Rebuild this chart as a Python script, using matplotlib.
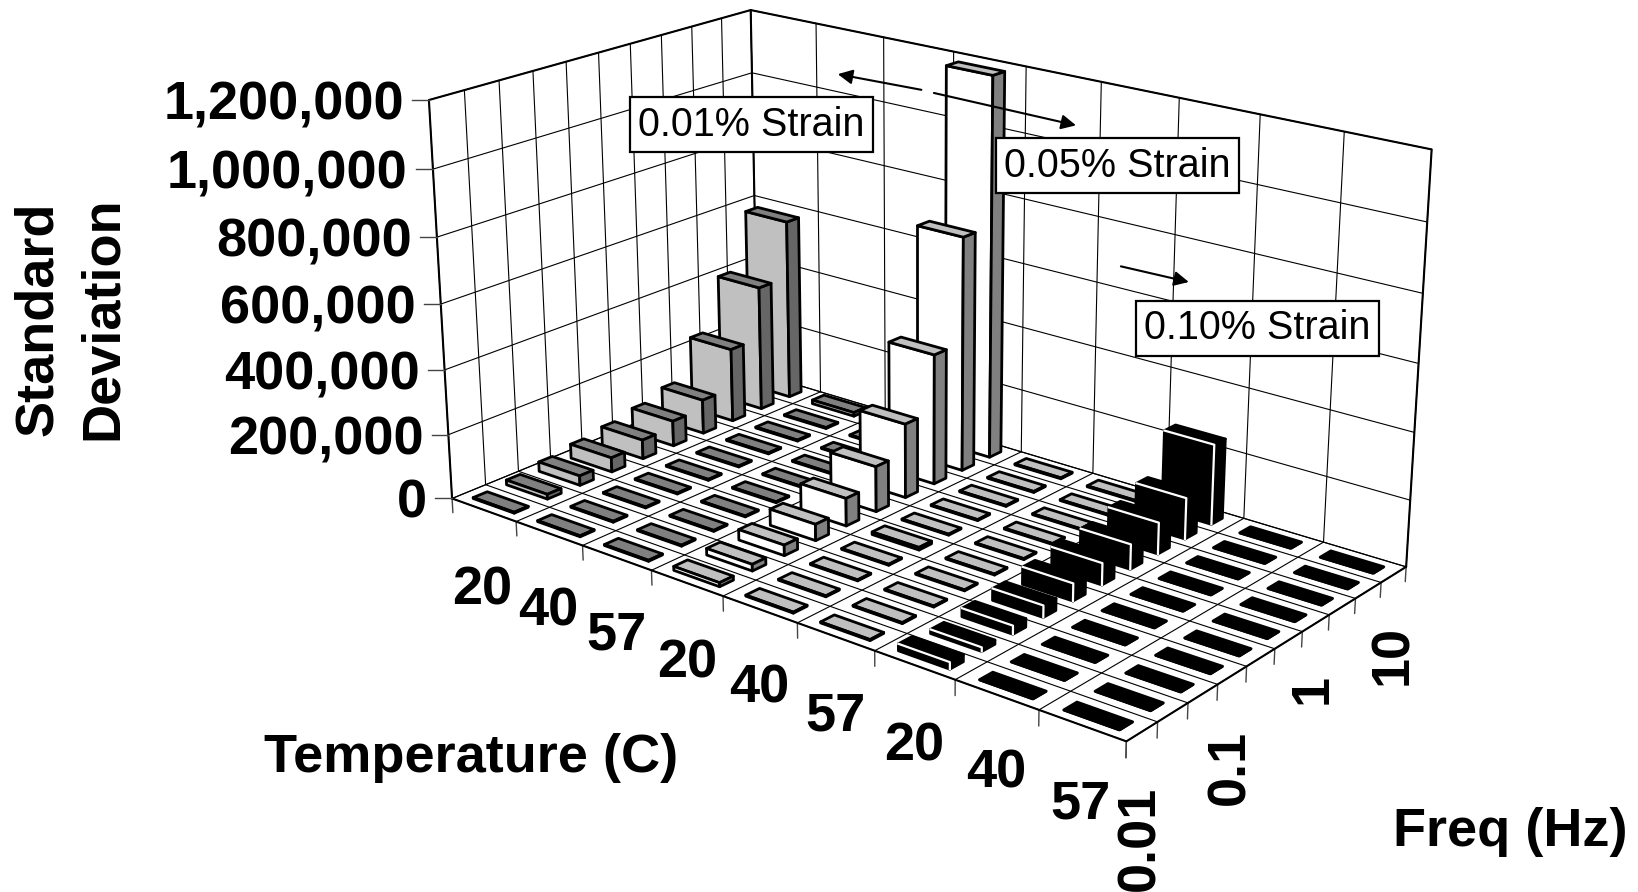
import numpy as np
import matplotlib
matplotlib.use("Agg")
import matplotlib.pyplot as plt
from matplotlib.patches import Rectangle
from mpl_toolkits.mplot3d.art3d import Poly3DCollection
from mpl_toolkits.mplot3d import proj3d

plt.rcParams['font.family'] = ['Liberation Sans', 'DejaVu Sans']

temps = ["20", "40", "57", "20", "40", "57", "20", "40", "57"]
freq_labels = ["0.01", "0.1", "1", "10"]
ytick_vals = [0, 200000, 400000, 600000, 800000, 1000000, 1200000]
ytick_labels = ["0", "200,000", "400,000", "600,000", "800,000", "1,000,000", "1,200,000"]

# one list per temperature column, front row (0.01 Hz) to back row (10 Hz)
s01_20 = [3000, 15000, 30000, 45000, 60000, 80000, 108000, 235000, 400000, 580000]
s01_40 = [3000, 3000, 3000, 3000, 3000, 3000, 3000, 3000, 3000, 12000]
s01_57 = [3000, 3000, 3000, 3000, 3000, 3000, 3000, 3000, 3000, 3000]
s05_20 = [12000, 20000, 32000, 50000, 85000, 140000, 230000, 405000, 730000, 1185000]
s05_40 = [3000, 3000, 3000, 3000, 8000, 3000, 3000, 3000, 3000, 3000]
s05_57 = [3000, 3000, 3000, 3000, 3000, 3000, 3000, 3000, 3000, 3000]
s10_20 = [20000, 12000, 25000, 35000, 52000, 65000, 75000, 95000, 125000, 245000]
s10_40 = [0, 0, 0, 0, 0, 0, 0, 0, 0, 0]
s10_57 = [0, 0, 0, 0, 0, 0, 0, 0, 0, 0]
columns = [s01_20, s01_40, s01_57, s05_20, s05_40, s05_57, s10_20, s10_40, s10_57]

# front, top, side colour for each strain group
group_colors = [("#c0c0c0", "#808080", "#666666"),
                ("#ffffff", "#c0c0c0", "#808080"),
                ("#000000", "#000000", "#000000")]

ZMAX = 1200000.0
NX, NY = 9, 10
BAR_DX, BAR_DY = 0.64, 0.42

fig = plt.figure(figsize=(16.38, 8.92), dpi=100)
ax = fig.add_axes([0, 0, 1, 1], projection="3d", computed_zorder=False)
ax.set_axis_off()
ax.set_proj_type("ortho")  # keeps mplot3d from clipping lines, the matrix below is the real camera
ax.set_xlim(0, NX)
ax.set_ylim(0, NY)
ax.set_zlim(0, ZMAX)

# overlay in picture coordinates, for labels, boxes and arrows
ov = fig.add_axes([0, 0, 1, 1], zorder=2)
ov.set_xlim(0, 1568)
ov.set_ylim(854, 0)
ov.axis("off")

fig.canvas.draw()

# camera fitted on box points: (x, y, z/zmax) -> pixel
box3 = [(0, 0, 0), (1, 0, 0), (2, 0, 0), (3, 0, 0), (4, 0, 0), (5, 0, 0), (6, 0, 0), (8, 0, 0), (9, 0, 0),
        (9, 1, 0), (9, 5, 0), (9, 10, 0),
        (0, 10, 1), (2, 10, 1), (4, 10, 1), (6, 10, 1), (8, 10, 1), (9, 10, 1),
        (0, 0, 1), (0, 2, 1), (0, 4, 1), (0, 6, 1), (0, 8, 1),
        (0, 0, 1 / 6), (0, 0, 2 / 6), (0, 0, 3 / 6)]
box2 = [(452, 498), (515.7, 521.7), (582.3, 545.7), (651, 570), (722.7, 596.7), (797.3, 623.3),
        (875, 650.7), (1039.3, 710), (1126.7, 741),
        (1157.3, 722.3), (1275, 648.3), (1406, 567.3),
        (751, 9.3), (884, 38), (1026, 67), (1179, 99), (1344, 131.7), (1432, 148),
        (429, 100), (498.7, 81), (565.7, 61.7), (630.3, 43.3), (691.7, 26),
        (449, 435), (445, 370), (441, 304)]
box2 = np.array(box2) * 1568 / 1638
px = ax.transData.inverted().transform(ov.transData.transform(box2))
rows = []
for (X, Y, Z), (u, v) in zip(box3, px):
    rows.append([X, Y, Z, 1, 0, 0, 0, 0, -u * X, -u * Y, -u * Z, -u])
    rows.append([0, 0, 0, 0, X, Y, Z, 1, -v * X, -v * Y, -v * Z, -v])
P = np.linalg.svd(np.array(rows))[2][-1].reshape(3, 4)
if P[2] @ np.array([0, 0, 0, 1]) < 0:
    P = -P
M = np.vstack([P[0], P[1], [0, 0, 0, -1], P[2]])
M[:, 2] /= ZMAX
ax.get_proj = lambda: M
ax.M = M


def to_ov(x, y, z):
    u, v, _ = proj3d.proj_transform(x, y, z, M)
    return ov.transData.inverted().transform(ax.transData.transform((u, v)))


def line(xs, ys, zs, lw=0.8, color="black", zorder=1):
    ax.plot(xs, ys, zs, color=color, lw=lw, zorder=zorder, clip_on=False, solid_capstyle="round")


# walls and floor grid
for i in range(NX + 1):
    line([i, i], [0, NY], [0, 0])
    line([i, i], [NY, NY], [0, ZMAX])
    line([i, i], [0, 0], [0, -45000], color="#444444", lw=1.0)
for j in range(NY + 1):
    line([0, NX], [j, j], [0, 0])
    line([0, 0], [j, j], [0, ZMAX])
    line([NX, NX], [j, j], [0, -45000], color="#444444", lw=1.0)
for z in ytick_vals:
    line([0, 0], [0, NY], [z, z])
    line([0, NX], [NY, NY], [z, z])
    p = to_ov(0, 0, z)
    ov.plot([p[0] - 16, p[0]], [p[1], p[1]], color="#444444", lw=1.0)

# heavier outline of the box
line([0, NX, NX], [0, 0, NY], [0, 0, 0], lw=1.5)
line([0, 0, 0, NX, NX], [0, 0, NY, NY, NY], [0, ZMAX, ZMAX, ZMAX, 0], lw=1.5)
line([0, 0], [NY, NY], [0, ZMAX], lw=1.5)

# bars, painted from the back row forward
order = 10
for j in range(NY - 1, -1, -1):
    for i in range(NX):
        h = columns[i][j]
        front, top, side = group_colors[i // 3]
        x0 = i + (1 - BAR_DX) / 2
        x1 = x0 + BAR_DX
        y0 = j + (1 - BAR_DY) / 2
        y1 = y0 + BAR_DY
        faces = [[(x0, y0, 0), (x1, y0, 0), (x1, y0, h), (x0, y0, h)],
                 [(x1, y0, 0), (x1, y1, 0), (x1, y1, h), (x1, y0, h)],
                 [(x0, y0, h), (x1, y0, h), (x1, y1, h), (x0, y1, h)]]
        coll = Poly3DCollection(faces, facecolors=[front, side, top], edgecolors="black",
                                linewidths=2.0, joinstyle="round", zorder=order)
        coll.set_clip_on(False)
        ax.add_collection3d(coll)
        order += 1
        if i // 3 == 2 and h > 5000:
            ax.plot([x0, x1, x1], [y0, y0, y0], [h, h, 0], color="white", lw=1.6,
                    zorder=order, clip_on=False)
            order += 1

# text
for val, lab in zip(ytick_vals, ytick_labels):
    p = to_ov(0, 0, val)
    ov.text(p[0] - 24, p[1] + 18.5, lab, ha="right", va="baseline", fontsize=39, fontweight="bold")

temp_xy = [(462, 565), (525, 585), (590, 608), (658, 635), (727, 659),
           (800, 686), (875, 715), (954, 741), (1034, 770)]
for (x, y), lab in zip(temp_xy, temps):
    ov.text(x, y, lab, ha="center", va="center", fontsize=39, fontweight="bold")

freq_xy = [(1092, 803), (1178, 735), (1257, 660), (1334, 627)]
for (x, y), lab in zip(freq_xy, freq_labels):
    ov.text(x, y, lab, ha="center", va="center", rotation=90, fontsize=39, fontweight="bold")

ov.text(451, 726, "Temperature (C)", ha="center", va="center", fontsize=39, fontweight="bold")
ov.text(1446, 797, "Freq (Hz)", ha="center", va="center", fontsize=39, fontweight="bold")
ov.text(67, 305, "Standard\nDeviation", ha="center", va="center", rotation=90,
        fontsize=39, fontweight="bold", linespacing=1.38)

strain_boxes = [("0.01% Strain", 603, 93), ("0.05% Strain", 953, 132), ("0.10% Strain", 1087, 288)]
for lab, x, y in strain_boxes:
    ov.add_patch(Rectangle((x, y), 233, 53, fc="white", ec="black", lw=1.6, zorder=3))
    ov.text(x + 116.5, y + 26.5, lab, ha="center", va="center", fontsize=28.5, zorder=4)

arrows = [((882, 86), (802, 71)), ((894, 89), (1030, 120)), ((1073, 255), (1138, 270))]
for start, end in arrows:
    ov.annotate("", xy=end, xytext=start,
                arrowprops=dict(arrowstyle="-|>", color="black", lw=1.5, mutation_scale=22, shrinkA=0, shrinkB=0))

fig.savefig("out.png", dpi=100)
